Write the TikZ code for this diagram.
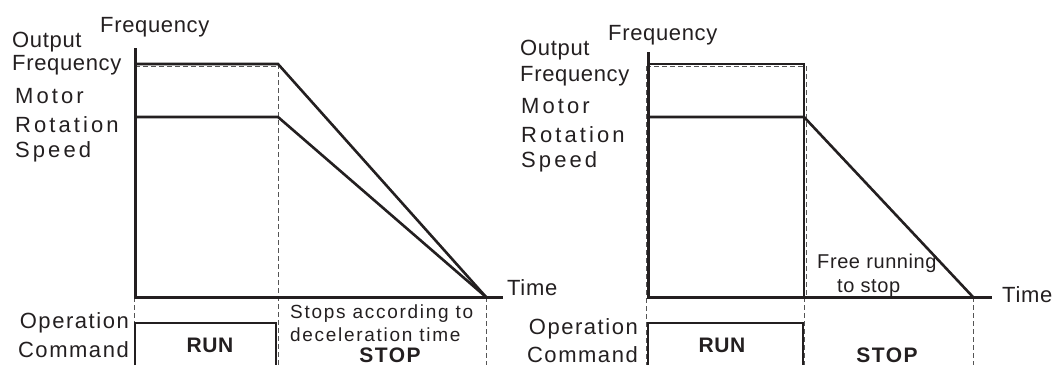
\documentclass[tikz,border=0pt]{standalone}
\usepackage{fontspec}
\newfontfamily\lblfont{Liberation Sans}[LetterSpace=3]
\newfontfamily\oplblfont{Liberation Sans}[LetterSpace=7]
\newfontfamily\widefont{Liberation Sans}[LetterSpace=14]
\newfontfamily\notefont{Liberation Sans}[LetterSpace=9]
\usetikzlibrary{positioning}
\definecolor{ink}{HTML}{231F20}
\definecolor{guide}{HTML}{555555}
\tikzset{
  lbl/.style={font=\lblfont\fontsize{22}{26}\selectfont,text=ink,inner sep=0pt},
  oplbl/.style={font=\oplblfont\fontsize{22}{26}\selectfont,text=ink,inner sep=0pt},
  widelbl/.style={font=\widefont\fontsize{22}{26}\selectfont,text=ink,inner sep=0pt},
  note/.style={font=\notefont\fontsize{19}{22}\selectfont,text=ink,inner sep=0pt},
  freenote/.style={font=\lblfont\fontsize{20}{22}\selectfont,text=ink,inner sep=0pt},
  cmd/.style={font=\lblfont\bfseries\fontsize{21}{24}\selectfont,text=ink,inner sep=0pt},
  stopcmd/.style={font=\oplblfont\bfseries\fontsize{21}{24}\selectfont,text=ink,inner sep=0pt},
  axis/.style={draw=ink,line width=3pt},
  curve/.style={draw=ink,line width=2.6pt,line join=miter},
  guideline/.style={draw=guide,line width=1pt,dash pattern=on 5pt off 3pt},
  runbox/.style={draw=ink,line width=2.4pt},
}

\begin{document}
\begin{tikzpicture}[x=1pt,y=-1pt]
  \useasboundingbox (0,0) rectangle (1057,365);

  % left: stop by deceleration
  \coordinate (lo) at (135,297);
  \coordinate (ltop) at (135,48);
  \coordinate (lend) at (503,297);
  \coordinate (lf) at (135,64);
  \coordinate (lm) at (135,117);
  \coordinate (lfs) at (278,64);
  \coordinate (lms) at (278,117);
  \coordinate (lz) at (486,297);
  \draw[guideline] (135,66) -- (278,66);
  \draw[guideline] (lfs) -- (278,365);
  \draw[guideline] (134,297) -- (134,365);
  \draw[guideline] (lz) -- (486,365);
  \draw[axis] (ltop) -- (lo) -- (lend);
  \draw[curve] (lf) -- (lfs) -- (lz);
  \draw[curve] (lm) -- (lms) -- (lz);
  \draw[runbox] (135,365) -- (135,323) -- (276,323) -- (276,365);

  \node[lbl,anchor=base west] (lfreq) at (100,32) {Frequency};
  \node[lbl,anchor=base west] (lout1) at (12,47) {Output};
  \node[lbl,anchor=base west] (lout2) at (12,70) {Frequency};
  \node[widelbl,anchor=base west] (lmot1) at (15,103) {Motor};
  \node[widelbl,anchor=base west] (lmot2) at (15,132) {Rotation};
  \node[widelbl,anchor=base west] (lmot3) at (15,157) {Speed};
  \node[lbl,anchor=base west] (ltime) at (507,295) {Time};
  \node[oplbl,anchor=base east] (lop1) at (129,328) {Operation};
  \node[oplbl,anchor=base east] (lop2) at (129,357) {Command};
  \node[cmd,anchor=base] (lrun) at (210,352) {RUN};
  \node[note,anchor=base west] (lnote1) at (290,318) {Stops according to};
  \node[note,anchor=base west] (lnote2) at (290,341) {deceleration time};
  \node[stopcmd,anchor=base] (lstop) at (390,362) {STOP};

  % right: free running to stop
  \coordinate (ro) at (648,297);
  \coordinate (rtop) at (648,52);
  \coordinate (rend) at (992,297);
  \coordinate (rf) at (648,64);
  \coordinate (rm) at (648,117);
  \coordinate (rfs) at (804,64);
  \coordinate (rms) at (804,117);
  \coordinate (rfz) at (804,297);
  \coordinate (rz) at (973,297);
  \draw[guideline] (646,66) -- (806,66) -- (806,297);
  \draw[guideline] (646,66) -- (646,365);
  \draw[guideline] (804,297) -- (804,365);
  \draw[guideline] (rz) -- (973,365);
  \draw[axis] (rtop) -- (ro) -- (rend);
  \draw[curve] (rf) -- (rfs) -- (rfz);
  \draw[curve] (rm) -- (rms) -- (rz);
  \draw[runbox] (648,365) -- (648,323) -- (803,323) -- (803,365);

  \node[lbl,anchor=base west] (rfreq) at (608,40) {Frequency};
  \node[lbl,anchor=base west] (rout1) at (520,55) {Output};
  \node[lbl,anchor=base west] (rout2) at (520,81) {Frequency};
  \node[widelbl,anchor=base west] (rmot1) at (521,113) {Motor};
  \node[widelbl,anchor=base west] (rmot2) at (521,142) {Rotation};
  \node[widelbl,anchor=base west] (rmot3) at (521,167) {Speed};
  \node[lbl,anchor=base west] (rtime) at (1002,302) {Time};
  \node[oplbl,anchor=base east] (rop1) at (638,334) {Operation};
  \node[oplbl,anchor=base east] (rop2) at (638,362) {Command};
  \node[cmd,anchor=base] (rrun) at (722,352) {RUN};
  \node[freenote,anchor=base west] (rnote1) at (817,268) {Free running};
  \node[freenote,anchor=base west] (rnote2) at (837,292) {to stop};
  \node[stopcmd,anchor=base] (rstop) at (887,362) {STOP};
\end{tikzpicture}
\end{document}
